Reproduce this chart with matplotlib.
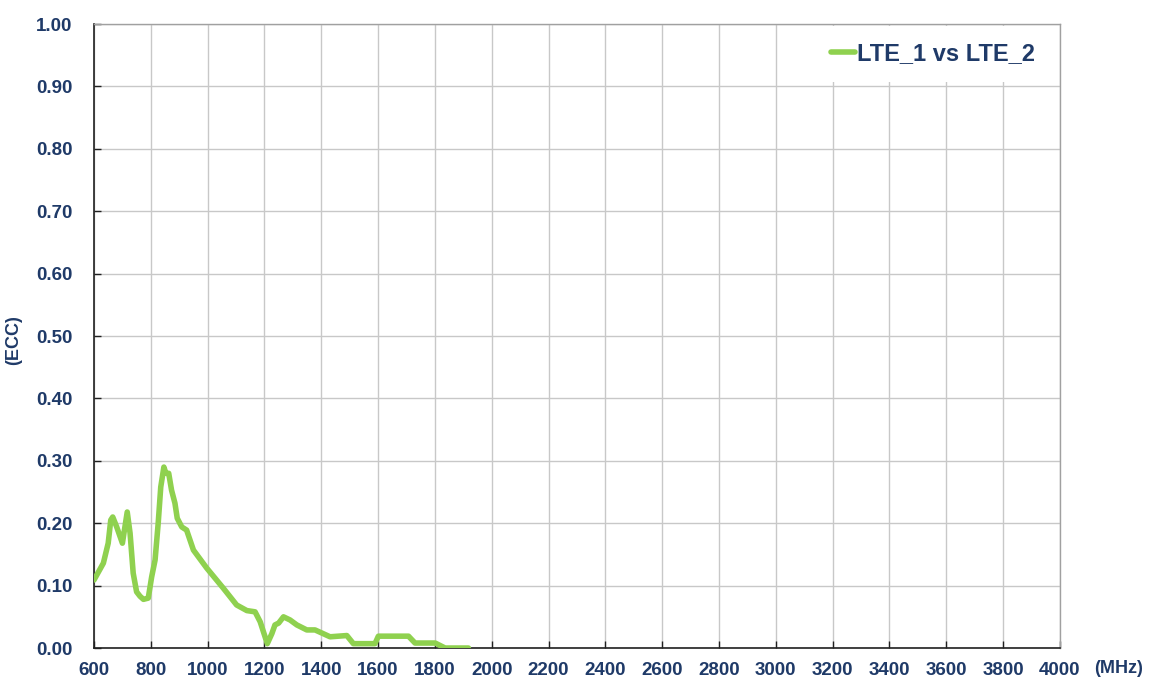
import matplotlib
matplotlib.use("Agg")
import matplotlib.pyplot as plt
from matplotlib.ticker import MultipleLocator, FormatStrFormatter

freq_mhz = [600, 633, 650, 659, 666, 680, 700, 717, 727, 738, 750, 762, 774, 791,
            803, 815, 826, 835, 846, 853, 863, 873, 885, 893, 909, 926, 950, 997,
            1055, 1102, 1138, 1167, 1185, 1210, 1226, 1237, 1250, 1267, 1290, 1314,
            1349, 1378, 1431, 1490, 1513, 1589, 1601, 1707, 1730, 1801, 1836, 1918]
ecc = [0.109, 0.136, 0.168, 0.205, 0.210, 0.194, 0.168, 0.218, 0.184, 0.120, 0.090,
       0.083, 0.078, 0.080, 0.114, 0.141, 0.200, 0.258, 0.290, 0.280, 0.280, 0.253,
       0.232, 0.208, 0.194, 0.189, 0.157, 0.128, 0.096, 0.069, 0.060, 0.058, 0.042,
       0.007, 0.023, 0.037, 0.040, 0.050, 0.045, 0.037, 0.029, 0.029, 0.018, 0.020,
       0.007, 0.007, 0.019, 0.019, 0.008, 0.008, 0.0, 0.0]
series_label = "LTE_1 vs LTE_2"

navy = "#1F3A68"
green = "#8FD14F"
plt.rcParams['font.family'] = ['Liberation Sans', 'DejaVu Sans']

fig = plt.figure(figsize=(11.49, 6.88), dpi=100)
ax = fig.add_axes([0.0818, 0.0581, 0.8407, 0.907])

ax.plot(freq_mhz, ecc, color=green, lw=4, solid_joinstyle='round',
        solid_capstyle='round', label=series_label, zorder=3)

ax.set_xlim(600, 4000)
ax.set_ylim(0, 1.0)
ax.xaxis.set_major_locator(MultipleLocator(200))
ax.yaxis.set_major_locator(MultipleLocator(0.1))
ax.yaxis.set_major_formatter(FormatStrFormatter('%.2f'))
ax.grid(True, color="#C8C8C8", lw=1, zorder=0)
ax.set_axisbelow(True)

for s in ['top', 'right']:
    ax.spines[s].set_color("#A0A0A0")
    ax.spines[s].set_linewidth(1)
for s in ['left', 'bottom']:
    ax.spines[s].set_color("#202020")
    ax.spines[s].set_linewidth(1.2)

ax.tick_params(axis='both', direction='in', length=5, width=1, colors="#202020",
               labelcolor=navy, labelsize=13.5)
ax.tick_params(axis='y', pad=15.5)
ax.tick_params(axis='x', pad=10)
for lbl in ax.get_xticklabels() + ax.get_yticklabels():
    lbl.set_fontweight('bold')

ax.set_ylabel("(ECC)", fontsize=13, fontweight='bold', color=navy)
ax.yaxis.set_label_coords(-0.0745, 0.494)
fig.text(0.9525, 0.028, "(MHz)", fontsize=13, fontweight='bold', color=navy,
         ha='left', va='center')

leg = ax.legend(loc='upper right', bbox_to_anchor=(0.9935, 1.0), frameon=True,
                fontsize=17, handlelength=1.0, handletextpad=0.1,
                borderaxespad=0.08, borderpad=0.7, fancybox=False)
leg.get_frame().set_edgecolor('white')
leg.get_frame().set_facecolor('white')
leg.get_frame().set_alpha(1)
leg.get_frame().set_linewidth(0)
for t in leg.get_texts():
    t.set_color(navy)
    t.set_fontweight('bold')

fig.savefig("out.png", dpi=100, facecolor='white')
